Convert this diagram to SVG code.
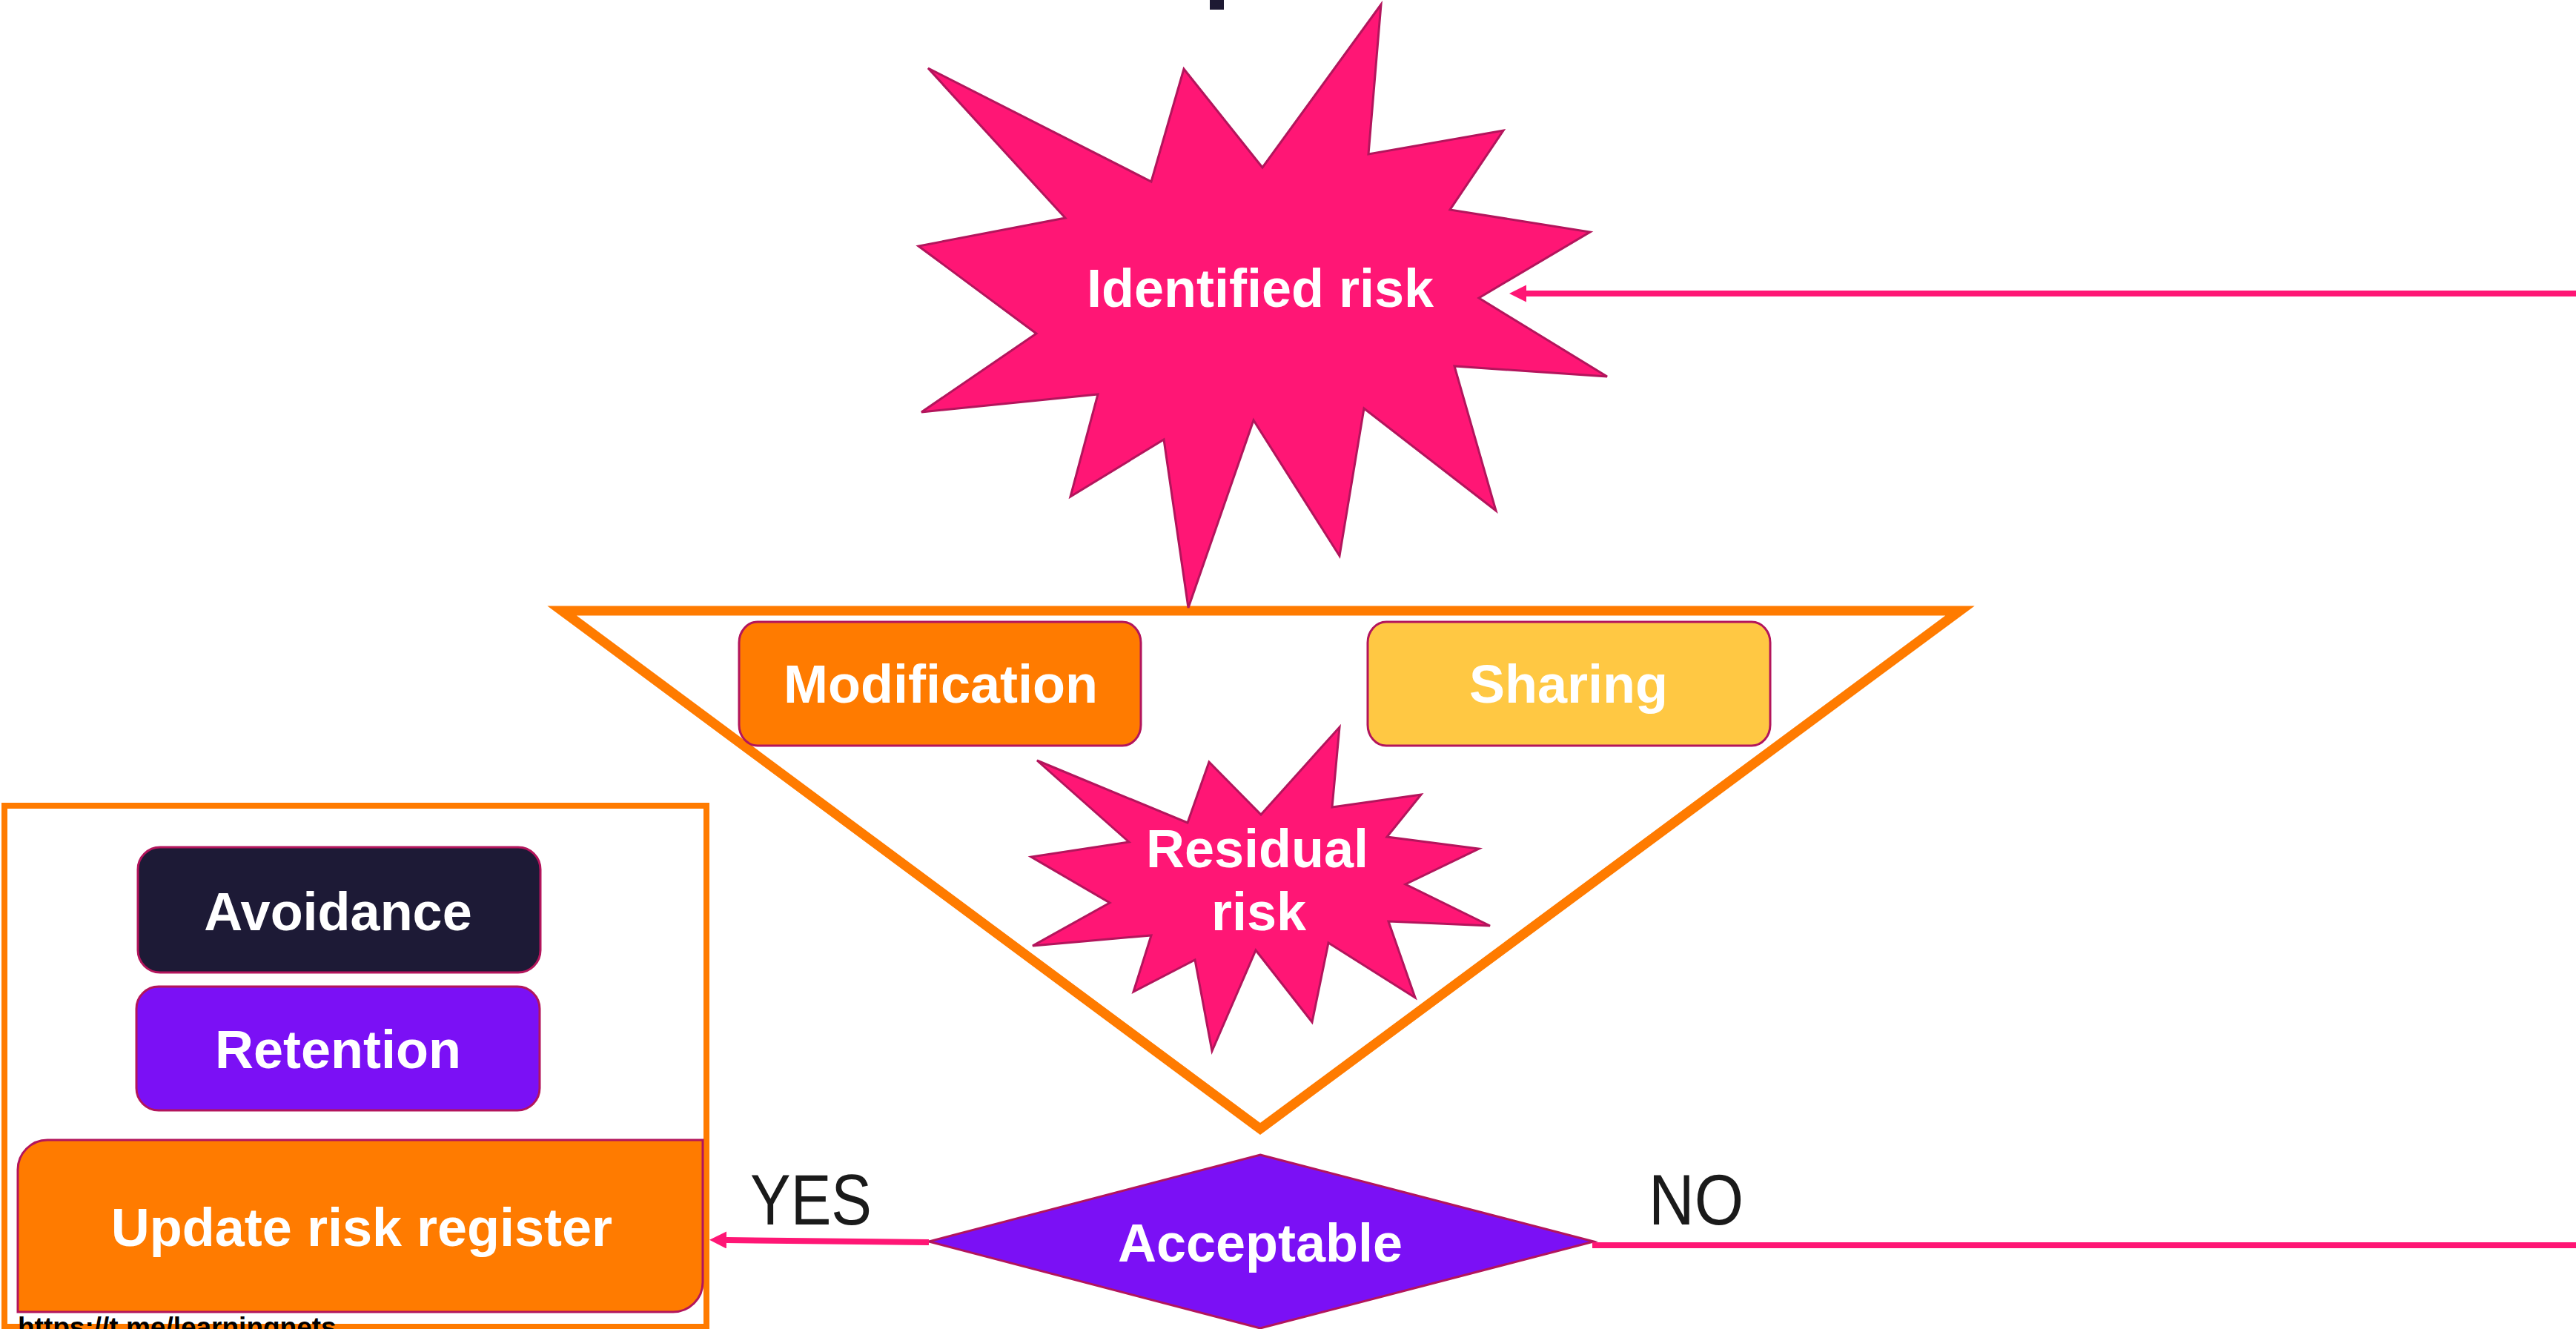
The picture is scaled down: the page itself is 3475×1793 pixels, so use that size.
<svg xmlns="http://www.w3.org/2000/svg" width="3475" height="1793" viewBox="0 0 3475 1793">
<defs>
<style>
.lbl{font-family:"Liberation Sans",Arial,sans-serif;font-weight:bold;font-size:72px;fill:#ffffff;text-anchor:middle}
.yn{font-family:"Liberation Sans",Arial,sans-serif;font-size:97px;fill:#1a1a1a}
.burst{fill:#ff1675;stroke:#b3155c;stroke-width:3;stroke-linejoin:miter}
.box{stroke:#b3155c;stroke-width:3}
.conn{stroke:#ff1675;stroke-width:8;fill:none}
.frame{fill:#ffffff;stroke:#ff7b00}
</style>
<marker id="ah" markerUnits="userSpaceOnUse" markerWidth="24" markerHeight="24" refX="0" refY="11.5" orient="auto">
<path d="M0,0 L23,11.5 L0,23 Z" fill="#ff1675"/>
</marker>
</defs>
<rect width="3475" height="1793" fill="#ffffff"/>
<rect x="1632" y="0" width="19" height="13" fill="#1d1933"/>

<g id="outer-box">
<rect class="frame" x="6" y="1087" width="947" height="703" stroke-width="8"/>
</g>

<g id="treatment-triangle">
<polygon class="frame" points="758,824 2644,824 1700,1523" stroke-width="13"/>
</g>

<g id="identified-risk">
<polygon class="burst" points="1863,6 1846,208 2028,176 1956,283 2145,313 1995,402 2168,508 1962,494 2018,689 1840,551 1807,750 1691,567 1603,820 1570,593 1444,670 1481,532 1243,556 1398,450 1239,332 1437,294 1252,92 1553,245 1597,93 1703,226"/>
<text class="lbl" x="1700" y="414">Identified risk</text>
</g>

<g id="modification">
<rect class="box" x="997" y="839" width="542" height="167" rx="25" ry="28" fill="#ff7b00"/>
<text class="lbl" x="1269" y="948">Modification</text>
</g>

<g id="sharing">
<rect class="box" x="1845" y="839" width="543" height="167" rx="25" ry="28" fill="#ffc843"/>
<text class="lbl" x="2116" y="948">Sharing</text>
</g>

<g id="residual-risk">
<polygon class="burst" points="1807,981 1797,1089 1917,1072 1871,1129 1995,1145 1896,1193 2010,1249 1873,1243 1909,1346 1792,1272 1770,1379 1694,1282 1635,1418 1612,1295 1529,1338 1553,1262 1393,1276 1497,1218 1391,1156 1523,1136 1399,1026 1602,1110 1631,1028 1701,1099"/>
<text class="lbl" x="1696" y="1170">Residual</text>
<text class="lbl" x="1698" y="1255">risk</text>
</g>

<g id="avoidance">
<rect class="box" x="186" y="1143" width="543" height="169" rx="30" ry="30" fill="#1d1a36"/>
<text class="lbl" x="456" y="1255">Avoidance</text>
</g>

<g id="retention">
<rect class="box" x="184" y="1331" width="544" height="167" rx="30" ry="30" fill="#7b10f5"/>
<text class="lbl" x="456" y="1441">Retention</text>
</g>

<g id="update-risk-register">
<path class="box" d="M64,1538 H948 V1730 A40,40 0 0 1 908,1770 H24 V1578 A40,40 0 0 1 64,1538 Z" fill="#ff7b00"/>
<text class="lbl" x="488" y="1681">Update risk register</text>
</g>

<g id="acceptable">
<polygon class="box" points="1700,1558 2150,1675 1700,1792 1253,1675" fill="#7b10f5"/>
<text class="lbl" x="1700" y="1702">Acceptable</text>
</g>

<g id="connectors">
<line class="conn" x1="3475" y1="396" x2="2059" y2="396" marker-end="url(#ah)"/>
<line class="conn" x1="2148" y1="1680" x2="3475" y2="1680"/>
<line class="conn" x1="1253" y1="1676" x2="980" y2="1673" marker-end="url(#ah)"/>
</g>

<g id="labels">
<text class="yn" x="1012" y="1652" textLength="164" lengthAdjust="spacingAndGlyphs">YES</text>
<text class="yn" x="2224" y="1652" textLength="128" lengthAdjust="spacingAndGlyphs">NO</text>
</g>

<text x="24" y="1803" font-family="Liberation Sans, Arial, sans-serif" font-weight="bold" font-size="37" fill="#000000">https://t.me/learningnets</text>
</svg>
